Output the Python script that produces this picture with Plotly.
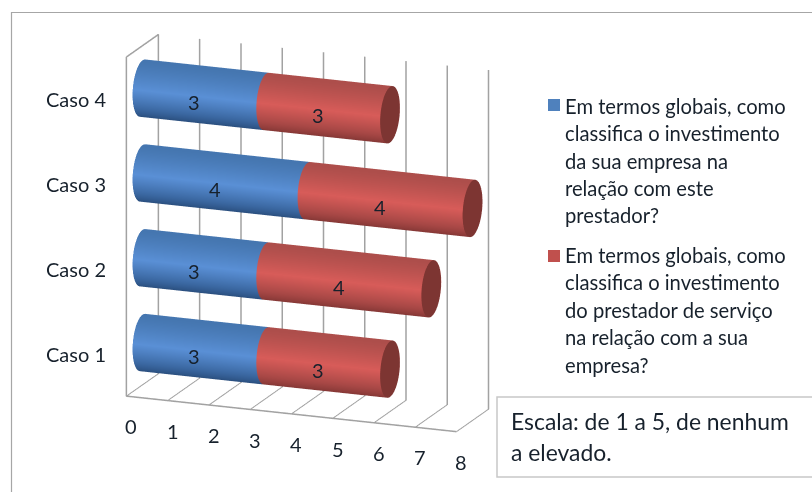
import numpy as np
import plotly.graph_objects as go

# Chart data
casos = ["Caso 1", "Caso 2", "Caso 3", "Caso 4"]
empresa = [3, 3, 4, 3]
prestador = [3, 4, 4, 3]
valor_ticks = [0, 1, 2, 3, 4, 5, 6, 7, 8]
legenda_empresa = ["Em termos globais, como", "classifica o investimento", "da sua empresa na",
                   "relação com este", "prestador?"]
legenda_prestador = ["Em termos globais, como", "classifica o investimento", "do prestador de serviço",
                     "na relação com a sua", "empresa?"]
nota = ["Escala: de 1 a 5, de nenhum", "a elevado."]

W, H = 812, 492
FONT = "Lato"
TXT = "#17212c"
BLUE_SCALE = [[0, "#274a78"], [0.25, "#3c69a3"], [0.6, "#5a90d6"], [1, "#4576b0"]]
RED_SCALE = [[0, "#7f3533"], [0.25, "#a84846"], [0.6, "#d85c59"], [1, "#ad4e4b"]]
CAP = "#7d3532"
GRID = "#a2a2a2"

# Scene box: value along x, depth along y, categories stacked along z
RY = 0.31
RZ = 0.328
ASPECT = dict(x=1.477, y=0.366, z=1.47)
LOOK_AT = np.array([0.0, 0.0, -0.03])
EYE = np.array([0.35, -0.895, 0.275]) * 2.0 + LOOK_AT

theta = np.linspace(0, 2 * np.pi, 73)
FLAT = dict(ambient=1, diffuse=0, specular=0, roughness=1, fresnel=0)


def cylinder(x0, x1, zc, scale):
    xs = np.array([x0, x1])
    yy = 0.5 + RY * np.cos(theta)
    zz = zc + RZ * np.sin(theta)
    return go.Surface(
        x=np.tile(xs, (theta.size, 1)),
        y=np.tile(yy[:, None], (1, 2)),
        z=np.tile(zz[:, None], (1, 2)),
        surfacecolor=np.tile(np.sin(theta)[:, None], (1, 2)),
        colorscale=scale, cmin=-1, cmax=1, showscale=False, hoverinfo="skip", lighting=FLAT,
    )


def end_cap(x1, zc):
    rr = np.array([0, 1])
    yy = 0.5 + RY * np.outer(np.cos(theta), rr)
    zz = zc + RZ * np.outer(np.sin(theta), rr)
    return go.Surface(
        x=np.full(yy.shape, x1), y=yy, z=zz,
        surfacecolor=np.zeros(yy.shape),
        colorscale=[[0, CAP], [1, CAP]], cmin=0, cmax=1, showscale=False, hoverinfo="skip", lighting=FLAT,
    )


fig = go.Figure()
labels3d = []
for k, caso in enumerate(casos):
    zc = k + 0.5
    a, b = empresa[k], prestador[k]
    fig.add_trace(cylinder(0, a, zc, BLUE_SCALE))
    fig.add_trace(cylinder(a, a + b, zc, RED_SCALE))
    fig.add_trace(end_cap(a + b, zc))
    for mid, val in ((a / 2, a), (a + b / 2, b)):
        labels3d.append(dict(x=mid, y=0.5 - RY, z=zc, text=str(val), showarrow=False,
                             font=dict(family=FONT, size=20, color=TXT)))
    labels3d.append(dict(x=0, y=0, z=zc, text=caso, showarrow=False, xanchor="right", xshift=-18,
                         font=dict(family=FONT, size=20, color=TXT)))

for t in valor_ticks:
    labels3d.append(dict(x=t, y=0, z=0, text=str(t), showarrow=False, xshift=5, yshift=-30,
                         font=dict(family=FONT, size=20, color=TXT)))

# Floor front edge and the outline of the left wall
xmax, nz = valor_ticks[-1], len(casos)
fig.add_trace(go.Scatter3d(x=[xmax, 0, 0, 0, 0], y=[0, 0, 0, 1, 1], z=[0, 0, nz, nz, 0], mode="lines",
                           line=dict(color=GRID, width=3), hoverinfo="skip", showlegend=False))


def axis(**kw):
    base = dict(title="", showgrid=False, zeroline=False, showline=False, showticklabels=False,
                showbackground=False, showspikes=False, ticks="")
    base.update(kw)
    return base


fig.update_layout(
    width=W, height=H, margin=dict(l=0, r=0, t=0, b=0), paper_bgcolor="white", showlegend=False,
    scene=dict(
        domain=dict(x=[0.0086, 0.7486], y=[0.024, 1]),
        aspectmode="manual", aspectratio=ASPECT,
        camera=dict(eye=dict(x=EYE[0], y=EYE[1], z=EYE[2]), up=dict(x=0, y=0, z=1),
                    center=dict(x=LOOK_AT[0], y=LOOK_AT[1], z=LOOK_AT[2]),
                    projection=dict(type="orthographic")),
        xaxis=axis(range=[0, xmax], tickvals=valor_ticks, showgrid=True, gridcolor=GRID, gridwidth=3),
        yaxis=axis(range=[0, 1]),
        zaxis=axis(range=[0, nz]),
        annotations=labels3d,
    ),
)


def px(x):
    return x / W


def py(y):
    return 1 - y / H


def text_line(x, y, s, size=20):
    fig.add_annotation(x=px(x), y=py(y), xref="paper", yref="paper", text=s, showarrow=False,
                       xanchor="left", yanchor="middle",
                       font=dict(family=FONT, size=size, color=TXT))


for s, y in zip(legenda_empresa, [106, 133, 161, 188, 215]):
    text_line(563, y, s, 20.2)
for s, y in zip(legenda_prestador, [255, 282, 310, 337, 365]):
    text_line(563, y, s, 20.2)
for s, y in zip(nota, [421, 452]):
    text_line(509, y, s, 22.9)


def rect(x0, y0, x1, y1, **kw):
    fig.add_shape(type="rect", xref="paper", yref="paper", x0=px(x0), x1=px(x1), y0=py(y0), y1=py(y1), **kw)


rect(548, 99, 560, 111, fillcolor="#4f81bd", line_width=0)
rect(548, 250, 560, 262, fillcolor="#c0504d", line_width=0)
rect(497, 397, 830, 477, fillcolor="rgba(0,0,0,0)", line=dict(color="#c8c8c8", width=1.5))
# Outer chart frame, running off the page at right and bottom
rect(11.5, 12.5, 830, 510, fillcolor="rgba(0,0,0,0)", line=dict(color="#a6a6a6", width=1.2))

fig.write_html("out.html", config=dict(displayModeBar=False))
